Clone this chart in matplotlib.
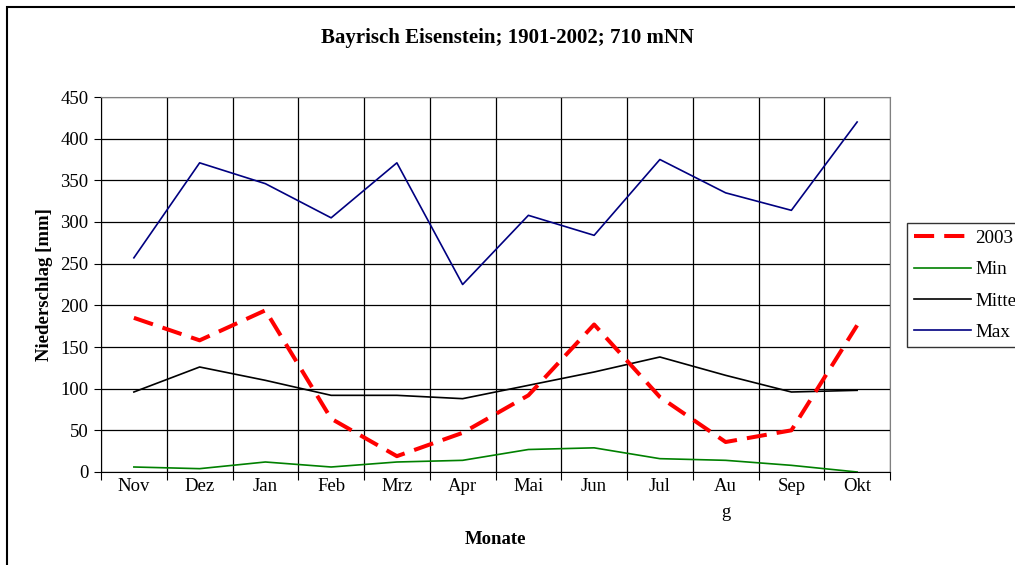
import matplotlib.pyplot as plt
from matplotlib.patches import Rectangle

plt.rcParams['font.family'] = ['Liberation Serif', 'DejaVu Serif']

months = ["Nov", "Dez", "Jan", "Feb", "Mrz", "Apr", "Mai", "Jun", "Jul", "Au\ng", "Sep", "Okt"]
y2003 = [185, 158, 194, 64, 19, 47, 92, 177, 90, 36, 50, 176]
ymin = [6, 4, 12, 6, 12, 14, 27, 29, 16, 14, 8, 0]
ymittel = [96, 126, 110, 92, 92, 88, 104, 120, 138, 116, 96, 98]
ymax = [257, 371, 346, 305, 371, 225, 308, 284, 375, 335, 314, 420]

fig = plt.figure(figsize=(10.15, 5.65), dpi=100)
ax = fig.add_axes([101/1015, 1 - 472/565, 789/1015, 375/565])

x = range(len(months))
ax.plot(x, y2003, color='#ff0000', lw=2.9, dashes=(5, 2.5), label='2003', zorder=5)
ax.plot(x, ymin, color='#008000', lw=1.2, label='Min', zorder=4)
ax.plot(x, ymittel, color='black', lw=1.2, label='Mittel', zorder=4)
ax.plot(x, ymax, color='#000080', lw=1.2, label='Max', zorder=4)

ax.set_xlim(-0.5, len(months) - 0.5)
ax.set_ylim(0, 450)
ax.set_yticks(range(0, 451, 50))

# ticks + vertical grid at category borders, labels centred
ax.set_xticks([i - 0.5 for i in range(len(months) + 1)])
ax.set_xticklabels([])
ax.set_xticks(list(x), minor=True)
ax.set_xticklabels(months, minor=True, fontsize=13.5, va='top', linespacing=1.75)
ax.tick_params(axis='x', which='major', direction='out', length=6, color='black')
ax.tick_params(axis='x', which='minor', length=0, pad=4)
ax.tick_params(axis='y', direction='out', length=5, labelsize=13.5, pad=4)

ax.grid(True, which='major', color='black', lw=0.9)
ax.set_axisbelow(True)
for side in ['top', 'right']:
    ax.spines[side].set_color('#808080')
ax.spines['left'].set_color('black')
ax.spines['bottom'].set_color('black')

ax.set_ylabel("Niederschlag [mm]", fontsize=13.5, fontweight='bold', labelpad=5)
ax.set_xlabel("Monate", fontsize=13.5, fontweight='bold', labelpad=7)
fig.text(0.5, 1 - 38/565, "Bayrisch Eisenstein; 1901-2002; 710 mNN",
         ha='center', va='center', fontsize=15, fontweight='bold')

leg = fig.legend(loc='upper left', bbox_to_anchor=(907/1015, 1 - 223/565),
                 fontsize=13.8, frameon=True, fancybox=False, handlelength=3.0,
                 borderaxespad=0, borderpad=0.35, labelspacing=0.72, handletextpad=0.2)
leg.get_frame().set_edgecolor('black')
leg.get_frame().set_linewidth(1.0)

fig.patches.append(Rectangle((7/1015, -0.1), 2, 1 - 7/565 + 0.1, transform=fig.transFigure,
                             fill=False, edgecolor='black', lw=1.5))

fig.savefig('out.png', dpi=100)
